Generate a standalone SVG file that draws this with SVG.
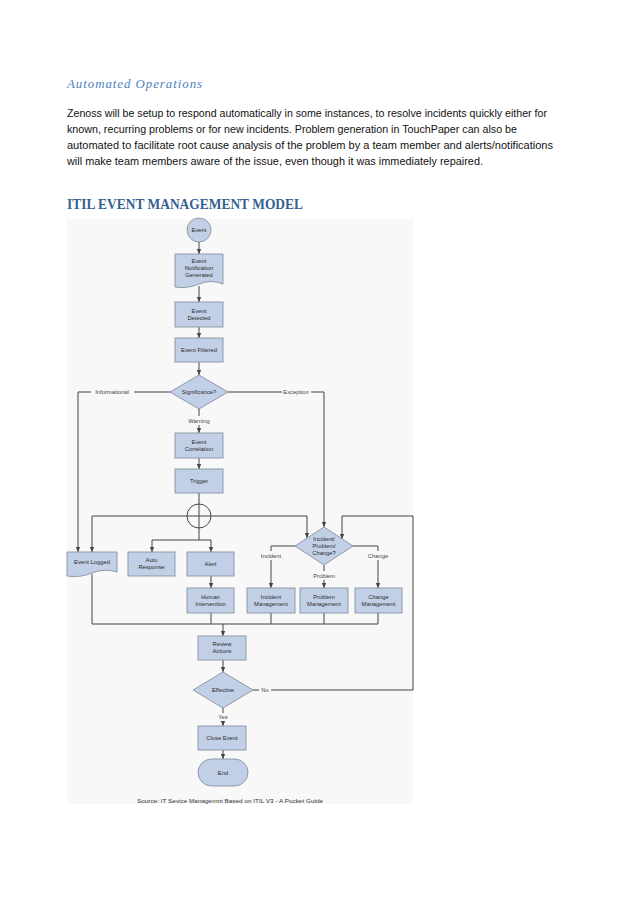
<svg xmlns="http://www.w3.org/2000/svg" width="638" height="903" viewBox="0 0 638 903">
<style>
.title{font-family:"Liberation Serif","DejaVu Serif",serif;font-style:italic;font-size:13.5px;fill:#4f81bd;letter-spacing:1px}
.body{font-family:"Liberation Sans","Open Sans",sans-serif;font-size:11.2px;fill:#111}
.h1{font-family:"Liberation Serif","DejaVu Serif",serif;font-weight:bold;font-size:15.5px;fill:#365f91}
.box{fill:#c2d0e7;stroke:#86929f;stroke-width:0.9}
.ln{fill:none;stroke:#444;stroke-width:1}
.arr{fill:none;stroke:#444;stroke-width:1;marker-end:url(#ah)}
.t{font-family:"Liberation Sans","Arial",sans-serif;font-size:5.8px;fill:#2a2a2a;text-anchor:middle}
.lb{font-family:"Liberation Sans","Arial",sans-serif;font-size:5.8px;fill:#444;text-anchor:middle}
</style>
<defs>
<marker id="ah" markerWidth="6" markerHeight="6" refX="5" refY="3" orient="auto" markerUnits="userSpaceOnUse">
<path d="M0,0.8 L5,3 L0,5.2 Z" fill="#444"/>
</marker>
</defs>
<rect width="638" height="903" fill="#ffffff"/>
<text class="title" x="67" y="88" textLength="136" lengthAdjust="spacingAndGlyphs">Automated Operations</text>
<text class="body" x="67" y="116.5" textLength="480" lengthAdjust="spacingAndGlyphs">Zenoss will be setup to respond automatically in some instances, to resolve incidents quickly either for</text>
<text class="body" x="67" y="132.8" textLength="450" lengthAdjust="spacingAndGlyphs">known, recurring problems or for new incidents.  Problem generation in TouchPaper can also be</text>
<text class="body" x="67" y="149.1" textLength="486" lengthAdjust="spacingAndGlyphs">automated to facilitate root cause analysis of the problem by a team member and alerts/notifications</text>
<text class="body" x="67" y="165.4" textLength="416" lengthAdjust="spacingAndGlyphs">will make team members aware of the issue, even though it was immediately repaired.</text>
<text class="h1" x="67" y="209" textLength="236" lengthAdjust="spacingAndGlyphs">ITIL EVENT MANAGEMENT MODEL</text>
<rect x="67" y="219" width="346" height="585" fill="#f8f8f8"/>
<g id="connectors">
<line class="arr" x1="199" y1="242" x2="199" y2="254"/>
<line class="arr" x1="199" y1="286" x2="199" y2="302"/>
<line class="arr" x1="199" y1="327" x2="199" y2="338"/>
<line class="arr" x1="199" y1="362" x2="199" y2="375"/>
<polyline class="ln" points="170,392 134,392"/>
<polyline class="arr" points="91,392 78,392 78,552"/>
<polyline class="ln" points="228,392 282,392"/>
<polyline class="arr" points="311,392 324,392 324,527"/>
<line class="ln" x1="199" y1="409" x2="199" y2="416"/>
<line class="arr" x1="199" y1="425" x2="199" y2="433"/>
<line class="arr" x1="199" y1="458" x2="199" y2="469"/>
<line class="ln" x1="199" y1="493" x2="199" y2="540"/>
<circle class="ln" cx="199" cy="516" r="12"/>
<line class="ln" x1="92" y1="516" x2="307" y2="516"/>
<line class="arr" x1="92" y1="516" x2="92" y2="552"/>
<line class="arr" x1="307" y1="516" x2="307" y2="538"/>
<line class="ln" x1="152" y1="540" x2="211" y2="540"/>
<line class="arr" x1="152" y1="540" x2="152" y2="552"/>
<line class="arr" x1="211" y1="540" x2="211" y2="552"/>
<line class="arr" x1="211" y1="576" x2="211" y2="588"/>
<polyline class="ln" points="295,546 271,546 271,551"/>
<line class="arr" x1="271" y1="560" x2="271" y2="588"/>
<polyline class="ln" points="353,546 378,546 378,551"/>
<line class="arr" x1="378" y1="560" x2="378" y2="588"/>
<line class="ln" x1="324" y1="565" x2="324" y2="571"/>
<line class="arr" x1="324" y1="580" x2="324" y2="588"/>
<line class="ln" x1="92" y1="574" x2="92" y2="624"/>
<line class="ln" x1="92" y1="624" x2="378" y2="624"/>
<line class="ln" x1="211" y1="613" x2="211" y2="624"/>
<line class="ln" x1="271" y1="613" x2="271" y2="624"/>
<line class="ln" x1="324" y1="613" x2="324" y2="624"/>
<line class="ln" x1="378" y1="613" x2="378" y2="624"/>
<line class="arr" x1="223" y1="624" x2="223" y2="636"/>
<line class="arr" x1="223" y1="660" x2="223" y2="672"/>
<line class="ln" x1="253" y1="690" x2="259" y2="690"/>
<polyline class="arr" points="271,690 413,690 413,516 342,516 342,539"/>
<line class="ln" x1="223" y1="708" x2="223" y2="713"/>
<line class="arr" x1="223" y1="721" x2="223" y2="726"/>
<line class="arr" x1="223" y1="750" x2="223" y2="759"/>
<text class="lb" x="112" y="394">Informational</text>
<text class="lb" x="296" y="394">Exception</text>
<text class="lb" x="199" y="423">Warning</text>
<text class="lb" x="271" y="558">Incident</text>
<text class="lb" x="378" y="558">Change</text>
<text class="lb" x="324" y="578">Problem</text>
<text class="lb" x="265" y="692">No</text>
<text class="lb" x="223" y="719">Yes</text>
</g>
<g id="event">
<circle class="box" cx="199" cy="230" r="12"/>
<text class="t" x="199" y="232">Event</text>
</g>
<g id="notification">
<path class="box" d="M175,254 H223 V284 Q211,279 199,284 T175,287 Z"/>
<text class="t" x="199" y="263">Event</text>
<text class="t" x="199" y="270">Notification</text>
<text class="t" x="199" y="277">Generated</text>
</g>
<g id="detected">
<rect class="box" x="175" y="302" width="48" height="25"/>
<text class="t" x="199" y="313">Event</text>
<text class="t" x="199" y="320">Detected</text>
</g>
<g id="filtered">
<rect class="box" x="175" y="338" width="48" height="24"/>
<text class="t" x="199" y="352">Event Filtered</text>
</g>
<g id="significance">
<polygon class="box" points="199,375 228,392 199,409 170,392"/>
<text class="t" x="199" y="394">Significance?</text>
</g>
<g id="correlation">
<rect class="box" x="175" y="433" width="48" height="25"/>
<text class="t" x="199" y="444">Event</text>
<text class="t" x="199" y="451">Correlation</text>
</g>
<g id="trigger">
<rect class="box" x="175" y="469" width="48" height="24"/>
<text class="t" x="199" y="483">Trigger</text>
</g>
<g id="logged">
<path class="box" d="M67,552 H117 V572 Q104,568 92,573 T67,576 Z"/>
<text class="t" x="92" y="564">Event Logged</text>
</g>
<g id="auto">
<rect class="box" x="128" y="552" width="47" height="24"/>
<text class="t" x="151.5" y="562">Auto</text>
<text class="t" x="151.5" y="569">Response</text>
</g>
<g id="alert">
<rect class="box" x="187" y="552" width="47" height="24"/>
<text class="t" x="210.5" y="566">Alert</text>
</g>
<g id="human">
<rect class="box" x="187" y="588" width="47" height="25"/>
<text class="t" x="210.5" y="599">Human</text>
<text class="t" x="210.5" y="606">Intervention</text>
</g>
<g id="ipc">
<polygon class="box" points="324,527 353,546 324,565 295,546"/>
<text class="t" x="324" y="541">Incident/</text>
<text class="t" x="324" y="548">Problem/</text>
<text class="t" x="324" y="555">Change?</text>
</g>
<g id="incident">
<rect class="box" x="247" y="588" width="48" height="25"/>
<text class="t" x="271" y="599">Incident</text>
<text class="t" x="271" y="606">Management</text>
</g>
<g id="problem">
<rect class="box" x="300" y="588" width="48" height="25"/>
<text class="t" x="324" y="599">Problem</text>
<text class="t" x="324" y="606">Management</text>
</g>
<g id="change">
<rect class="box" x="355" y="588" width="47" height="25"/>
<text class="t" x="378.5" y="599">Change</text>
<text class="t" x="378.5" y="606">Management</text>
</g>
<g id="review">
<rect class="box" x="198" y="636" width="48" height="24"/>
<text class="t" x="222" y="646">Review</text>
<text class="t" x="222" y="653">Actions</text>
</g>
<g id="effective">
<polygon class="box" points="223,672 253,690 223,708 193,690"/>
<text class="t" x="223" y="692">Effective</text>
</g>
<g id="close">
<rect class="box" x="198" y="726" width="48" height="24"/>
<text class="t" x="222" y="740">Close Event</text>
</g>
<g id="end">
<rect class="box" x="198" y="759" width="50" height="27" rx="13.5"/>
<text class="t" x="223" y="775">End</text>
</g>
<text x="137" y="803" font-family="Liberation Sans, Arial, sans-serif" font-size="6" fill="#333" textLength="186" lengthAdjust="spacingAndGlyphs">Source: IT Sevice Managemnt Based on ITIL V3 - A Pocket Guide</text>
</svg>
